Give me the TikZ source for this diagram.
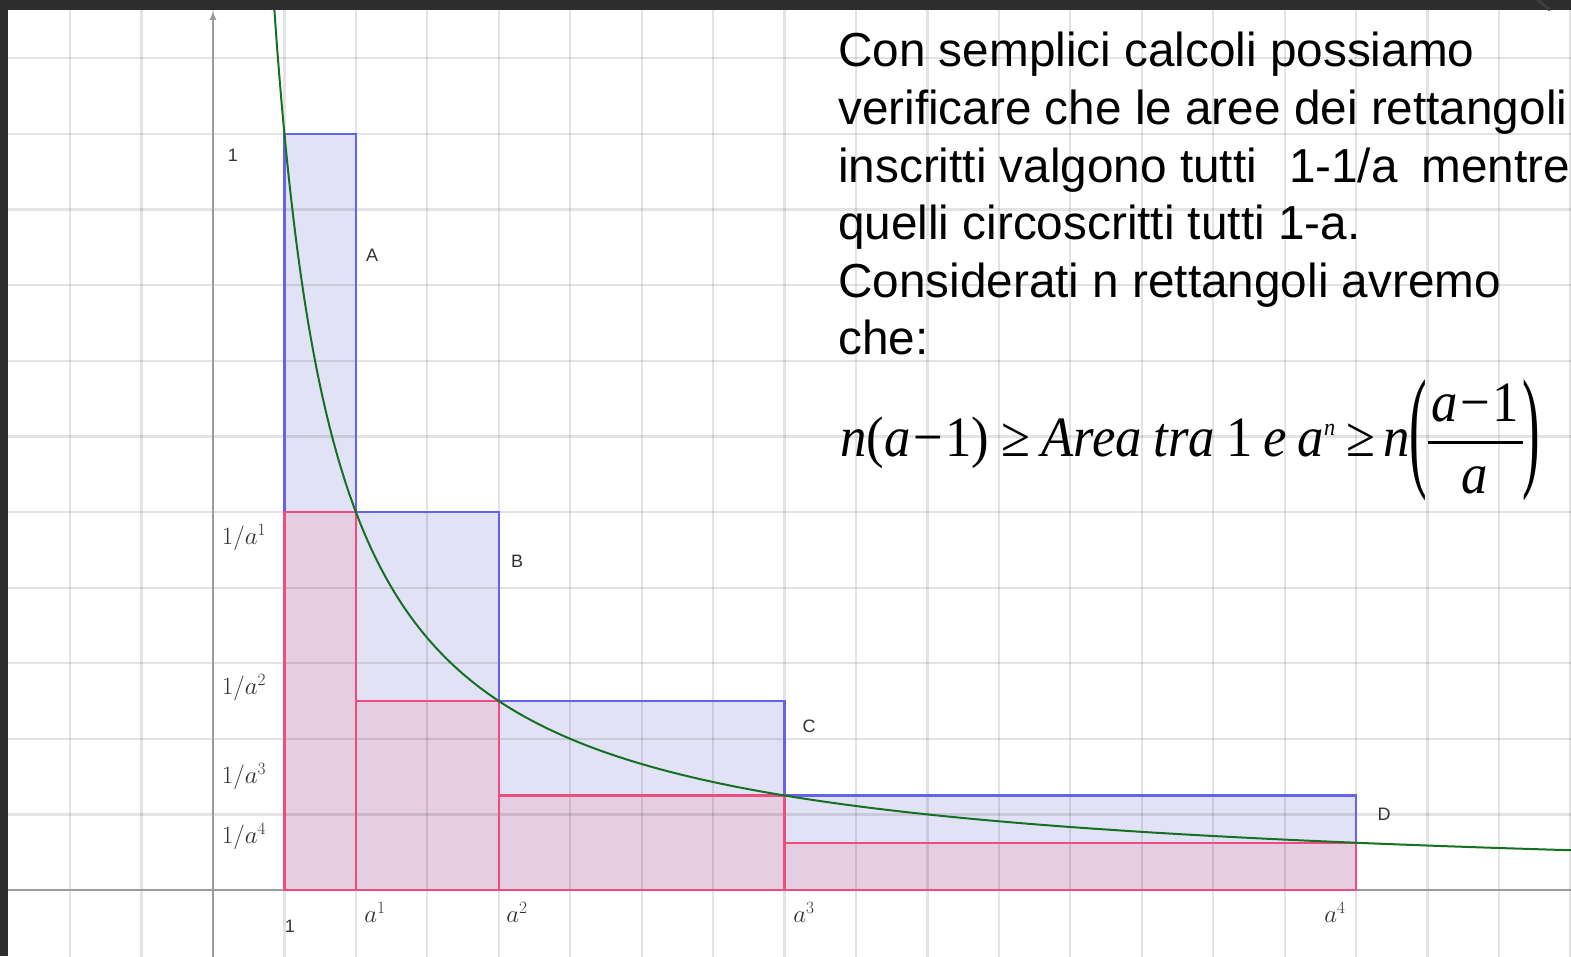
\documentclass[tikz,border=0pt]{standalone}
\usepackage{fontspec}
\usepackage{graphicx}
\usetikzlibrary{arrows.meta}
\newfontfamily\sansf{Liberation Sans}
\newfontfamily\serff{Liberation Serif}
\definecolor{framegray}{RGB}{45,45,45}
\definecolor{framelight}{RGB}{62,62,62}
\definecolor{bluefillc}{RGB}{226,226,246}
\definecolor{pinkfillc}{RGB}{229,205,226}
\definecolor{bluelinec}{RGB}{100,100,235}
\definecolor{pinklinec}{RGB}{236,76,126}
\definecolor{curvec}{RGB}{22,112,34}
\definecolor{axisc}{RGB}{155,155,155}
\definecolor{labelc}{RGB}{50,50,50}
\tikzset{
  gridline/.style={draw=black, draw opacity=0.11, line width=2.2pt},
  axisline/.style={draw=axisc, line width=2.4pt},
  bluebox/.style={fill=bluefillc},
  pinkbox/.style={fill=pinkfillc},
  blueedge/.style={draw=bluelinec, line width=2.2pt},
  pinkedge/.style={draw=pinklinec, line width=2.2pt},
  curveline/.style={draw=curvec, line width=2pt},
  sanslab/.style={font=\sansf\fontsize{18}{20}\selectfont, text=labelc, inner sep=0},
  mathlab/.style={font=\fontsize{24}{28}\selectfont, text=labelc, inner sep=0},
  txt/.style={font=\sansf\fontsize{47.7}{56}\selectfont, text=black, inner sep=0, anchor=base west}
}
\begin{document}
\begin{tikzpicture}[x=1pt,y=1pt]
\useasboundingbox (0,0) rectangle (1571,956);
\fill[white] (0,0) rectangle (1571,956);
\begin{scope}
\clip (0,0) rectangle (1571,956);
\begin{scope}[shift={(213,66)}, x=71.44pt, y=756pt]
  % circumscribed rectangles
  \fill[bluebox] (1,0) rectangle (2,1);
  \fill[bluebox] (2,0) rectangle (4,0.5);
  \fill[bluebox] (4,0) rectangle (8,0.25);
  \fill[bluebox] (8,0) rectangle (16,0.125);
  % inscribed rectangles
  \fill[pinkbox] (1,0) rectangle (2,0.5);
  \fill[pinkbox] (2,0) rectangle (4,0.25);
  \fill[pinkbox] (4,0) rectangle (8,0.125);
  \fill[pinkbox] (8,0) rectangle (16,0.0625);
  % grid
  \foreach \k in {-2,...,19} \draw[gridline] (\k,-0.1) -- (\k,1.2);
  \foreach \j in {1,...,11} \draw[gridline] (-3.2,\j/10) -- (19.2,\j/10);
  % axes
  \draw[axisline] (-3.2,0) -- (19.2,0);
  \draw[axisline,-{Latex[length=9pt,width=7pt]}] (0,-0.1) -- (0,1.163);
  % edges
  \draw[blueedge] (1,0) rectangle (2,1);
  \draw[blueedge] (2,0) rectangle (4,0.5);
  \draw[blueedge] (4,0) rectangle (8,0.25);
  \draw[blueedge] (8,0) rectangle (16,0.125);
  \draw[pinkedge] (1,0) rectangle (2,0.5);
  \draw[pinkedge] (2,0) rectangle (4,0.25);
  \draw[pinkedge] (4,0) rectangle (8,0.125);
  \draw[pinkedge] (8,0) rectangle (16,0.0625);
  % curve y = 1/x
  \draw[curveline] plot[domain=0.84:19.3, samples=400, smooth] (\x,{1/\x});
\end{scope}
\end{scope}
% graph labels
\node[sanslab] (ly1) at (233,801) {1};
\node[sanslab] (lA) at (372,701) {A};
\node[sanslab] (lB) at (517,395) {B};
\node[sanslab] (lC) at (809,230) {C};
\node[sanslab] (lD) at (1384,142) {D};
\node[sanslab] (lx1) at (290,30) {1};
\node[mathlab] (xa1) at (375,44) {$a^1$};
\node[mathlab] (xa2) at (517,44) {$a^2$};
\node[mathlab] (xa3) at (804,44) {$a^3$};
\node[mathlab] (xa4) at (1335,44) {$a^4$};
\node[mathlab] (ya1) at (244,418) {$1/a^1$};
\node[mathlab] (ya2) at (244,268) {$1/a^2$};
\node[mathlab] (ya3) at (244,179) {$1/a^3$};
\node[mathlab] (ya4) at (244,119) {$1/a^4$};
% text block
\node[txt] (t1) at (838,889) {Con semplici calcoli possiamo};
\node[txt] (t2) at (838,831.4) {verificare che le aree dei rettangoli};
\node[txt] (t3) at (838,773.8) {inscritti valgono tutti\hspace{32pt}1-1/a\hspace{24pt}mentre};
\node[txt] (t4) at (838,716.2) {quelli circoscritti tutti 1-a.};
\node[txt] (t5) at (838,658.6) {Considerati n rettangoli avremo};
\node[txt] (t6) at (838,601) {che:};
% formula
\node[anchor=base west, inner sep=0] (eq) at (840,499) {\resizebox{700pt}{\height}{\serff\fontsize{57}{60}\selectfont
\textit{n}(\textit{a}\kern.05em−\kern.05em1)\kern.22em≥\kern.22em\textit{Area}\kern.22em\textit{tra}\kern.22em1\kern.2em\textit{e}\kern.2em\textit{a}\raisebox{.38em}{\fontsize{24}{26}\selectfont\textit{n}}\kern.22em≥\kern.15em\textit{n}\raisebox{-16pt}{\scalebox{1}[2.35]{(}}\raisebox{-37pt}{\begin{tabular}[b]{@{\hspace{4pt}}c@{\hspace{4pt}}}\textit{a}\kern.05em−\kern.05em1\\\noalign{\vskip2pt\hrule height 2.5pt\vskip8pt}\textit{a}\end{tabular}}\raisebox{-16pt}{\scalebox{1}[2.35]{)}}}};
% dark frame
\fill[framegray] (0,946) rectangle (1571,956);
\fill[framegray] (0,0) rectangle (8,956);
\draw[framelight, line width=3pt] (1538,956) -- (1550,946);
\end{tikzpicture}
\end{document}
